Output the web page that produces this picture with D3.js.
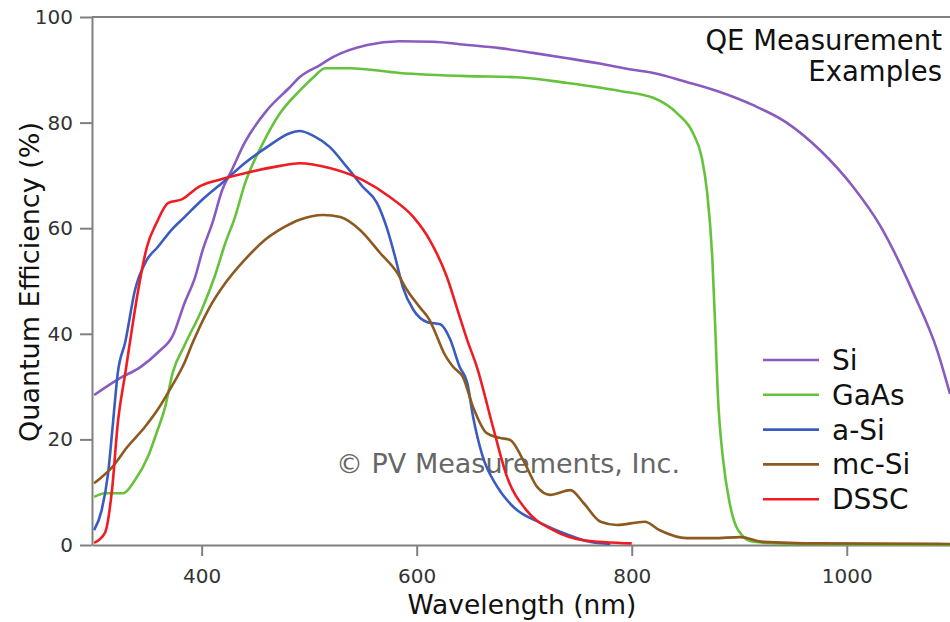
<!DOCTYPE html>
<html>
<head>
<meta charset="utf-8">
<script src="https://cdn.jsdelivr.net/npm/d3@7"></script>
<style>
  body { margin: 0; background: #fff; }
  text { font-family: "DejaVu Sans", "Noto Sans", sans-serif; }
</style>
</head>
<body>
<div id="chart"></div>
<script>
// wavelength (nm), quantum efficiency (%)
const si = [[300,28.4],[324,31.6],[343,33.7],[360,36.6],[373,39.6],[384,45.8],[394,50.8],[401,55.9],
  [410,61],[419,67.2],[428,71],[440,76.2],[461,82.4],[482,86.7],[491,88.6],[510,90.9],[522,92.4],
  [554,94.7],[584,95.4],[615,95.3],[647,94.7],[677,94.1],[708,93.2],[740,92.2],[770,91.2],[801,90],
  [820,89.4],[851,87.7],[882,85.8],[913,83.3],[944,80],[975,74.8],[1006,67.8],[1031,60.5],
  [1062,47.7],[1084,36.9],[1096,28.6]];
const gaas = [[300,9.1],[310,9.8],[327,9.8],[338,12.3],[350,16.7],[358,21.2],[366,26.1],[373,32.6],
  [384,37.8],[400,44.5],[412,50.8],[422,57.2],[431,62.1],[440,68.3],[457,76.1],[473,81.8],[491,86],
  [504,88.6],[515,90.3],[538,90.3],[584,89.4],[647,88.8],[693,88.6],[740,87.5],[789,86],[820,84.7],
  [842,81.8],[857,78],[865,73.5],[870,67],[875,54],[877.5,42],[880,28.8],[885,16.1],[891,8],
  [899,2.8],[913,0.6],[950,0.2],[1096,0]];
const aSi = [[300,2.8],[307,6.6],[313,13.6],[317.5,23.1],[322,32.6],[329,38.5],[338,48.3],[349,54],
  [359,56.4],[372,59.7],[384,62.1],[400,65.3],[422,69.1],[440,72.3],[461,75.4],[482,78],[491,78.4],
  [504,77.5],[519,75.4],[535,71.6],[550,67.8],[563,64.8],[572,60.2],[580,54.5],[587,48.9],[597,44.5],
  [610,42.2],[622,41.8],[631,39],[640,33.7],[647,30.7],[652.5,24.2],[661,17],[675,11],[690,7.2],
  [715,4.2],[740,2],[761,0.6],[780,0.2]];
const mcSi = [[300,11.7],[317,14.8],[331,18.6],[347,22.3],[359,25.6],[372,30],[384,34.5],[391,38],
  [406,44.5],[422,49.6],[440,54],[459,57.8],[475,60],[491,61.6],[513,62.5],[529,62.1],[547,59.7],
  [566,55.3],[582,51.5],[591,48.3],[603,45],[612,42.6],[619,39.4],[625,36.5],[634,33.7],[643,31.8],
  [652.5,26.1],[665,21.2],[677,20.3],[687,19.9],[699,16.1],[712,11],[724,9.5],[743,10.4],[755,8],
  [771,4.4],[786,3.8],[812,4.4],[826,2.8],[851,1.3],[876,1.3],[901,1.5],[922,0.6],[975,0.3],[1096,0.2]];
const dssc = [[300,0.4],[310,2.3],[316.6,10.4],[322,23.1],[329,32.6],[335,40.7],[341,48.3],[349,56.4],
  [358,61],[369,64.8],[382,65.5],[397,67.8],[415,69.1],[440,70.4],[473,71.8],[491,72.3],[519,71.4],
  [550,69.1],[575,65.9],[597,62.1],[612,57.8],[628,50.8],[640,43.2],[647,38.8],[656,33.7],[671,22.3],
  [684,12.9],[702,6.6],[727,2.8],[755,0.9],[800,0.3]];

const seriesNames = ["Si", "GaAs", "a-Si", "mc-Si", "DSSC"];
const seriesData = [si, gaas, aSi, mcSi, dssc];
const seriesColors = ["#8a5bbf", "#66c23c", "#3b5cbf", "#8c5a1f", "#f01c24"];
const xTicks = [400, 600, 800, 1000];
const yTicks = [0, 20, 40, 60, 80, 100];

const width = 950, height = 622;
const plotLeft = 92, plotTop = 17, plotBottom = 545, plotRight = 950;

const svg = d3.select("#chart").append("svg")
  .attr("width", width).attr("height", height);

const x = d3.scaleLinear().domain([298, 1096]).range([plotLeft, plotRight]);
const y = d3.scaleLinear().domain([0, 100]).range([plotBottom, plotTop]);

// frame
svg.append("line")
  .attr("x1", plotLeft).attr("x2", plotRight).attr("y1", plotTop).attr("y2", plotTop)
  .style("stroke", "#808080").style("stroke-width", 2);

const xAxis = svg.append("g")
  .attr("transform", `translate(0,${plotBottom})`)
  .call(d3.axisBottom(x).tickValues(xTicks).tickFormat(d3.format("d"))
    .tickSize(11).tickPadding(13).tickSizeOuter(0));
const yAxis = svg.append("g")
  .attr("transform", `translate(${plotLeft},0)`)
  .call(d3.axisLeft(y).tickValues(yTicks).tickSize(12).tickPadding(7).tickSizeOuter(0));

[xAxis, yAxis].forEach((g) => {
  g.select(".domain").style("stroke", "#808080").style("stroke-width", 2);
  g.selectAll(".tick line").style("stroke", "#808080").style("stroke-width", 2);
  g.selectAll(".tick text").style("font-size", "20px").style("fill", "#333")
    .style("font-family", "'DejaVu Sans', sans-serif");
});

// watermark
svg.append("text")
  .attr("x", 508).attr("y", 473)
  .attr("text-anchor", "middle")
  .style("font-size", "27px").style("fill", "#666")
  .text("© PV Measurements, Inc.");

// curves
const line = d3.line()
  .x((d) => x(d[0]))
  .y((d) => y(d[1]))
  .curve(d3.curveMonotoneX);

svg.append("g")
  .selectAll("path")
  .data(seriesData)
  .enter()
  .append("path")
    .attr("d", line)
    .style("fill", "none")
    .style("stroke", (d, i) => seriesColors[i])
    .style("stroke-width", 2.6)
    .style("stroke-linejoin", "round");

// axis titles
svg.append("text")
  .attr("x", 522).attr("y", 614)
  .attr("text-anchor", "middle")
  .style("font-size", "26.5px").style("fill", "#111")
  .text("Wavelength (nm)");

svg.append("text")
  .attr("transform", "translate(39,282) rotate(-90)")
  .attr("text-anchor", "middle")
  .style("font-size", "27px").style("fill", "#111")
  .text("Quantum Efficiency (%)");

// title
const title = svg.append("text")
  .attr("text-anchor", "end")
  .style("font-size", "27.5px").style("fill", "#111");
title.append("tspan").attr("x", 942).attr("y", 50).text("QE Measurement");
title.append("tspan").attr("x", 942).attr("y", 81).text("Examples");

// legend
const legend = svg.append("g")
  .selectAll(".legend")
  .data(seriesNames)
  .enter()
  .append("g")
    .attr("class", "legend")
    .attr("transform", (d, i) => `translate(763,${360 + i * 34.8})`);

legend.append("line")
  .attr("x1", 0).attr("x2", 56)
  .style("stroke", (d, i) => seriesColors[i])
  .style("stroke-width", 2.6);

legend.append("text")
  .attr("x", 69).attr("dy", "0.36em")
  .style("font-size", "28px").style("fill", "#111")
  .text((d) => d);
</script>
</body>
</html>
